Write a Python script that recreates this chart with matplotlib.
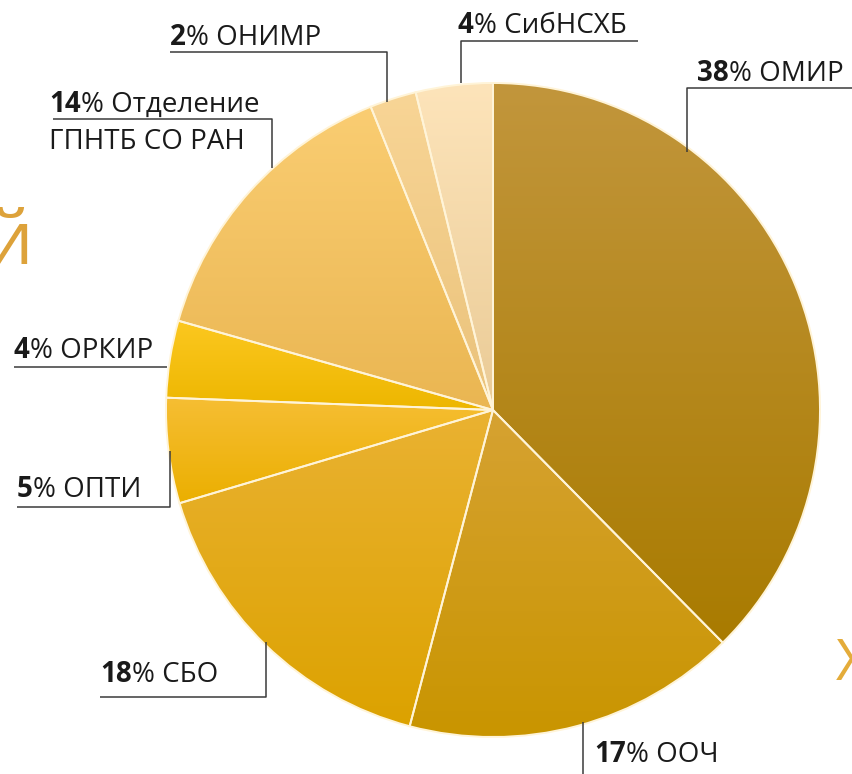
import numpy as np
import matplotlib.pyplot as plt
from matplotlib.colors import to_rgb

W, H = 852, 774

# slices, clockwise from 12 o'clock
names = ["ОМИР", "ООЧ", "СБО", "ОПТИ", "ОРКИР", "Отделение\nГПНТБ СО РАН", "ОНИМР", "СибНСХБ"]
percents = [38, 17, 18, 5, 4, 14, 2, 4]
shares = [37.6, 16.5, 16.3, 5.2, 3.8, 14.5, 2.3, 3.8]   # wedge sizes as measured in the picture

top_colors = ["#C2963C", "#D6A232", "#EAB232", "#F6BE34", "#FCC820", "#FACD72", "#F8D596", "#FDE4BA"]
bottom_colors = ["#A97B00", "#C99500", "#DCA200", "#EBAF00", "#EDB600", "#EAB652", "#EAC27A", "#EACB96"]

# label layout in pixels (x from left, y from top): text left/baseline and leader line
label_xy = [(697, 81), (594, 762), (100, 682), (17, 497), (14, 358), (49, 112), (170, 45), (458, 33)]
leaders = [
    [(852, 88), (687, 88), (687, 152)],
    [(583, 722), (583, 774)],
    [(100, 697), (266, 697), (266, 642)],
    [(17, 507), (170, 507), (170, 451)],
    [(14, 367), (167, 367)],
    [(53, 119), (272, 119), (272, 168)],
    [(170, 52), (387, 52), (387, 102)],
    [(638, 41), (461, 41), (461, 83)],
]

plt.rcParams['font.family'] = ['Open Sans', 'DejaVu Sans']
FS = 20

fig = plt.figure(figsize=(W / 100, H / 100), dpi=100)
ax = fig.add_axes([0, 0, 1, 1])

# y axis runs downward, so counterclock in data = clockwise on screen
wedges, _ = ax.pie(shares, startangle=-90, counterclock=True,
                   center=(493, 410), radius=327, colors=top_colors)

for w, c1, c2 in zip(wedges, top_colors, bottom_colors):
    bb = w.get_path().get_extents()
    grad = np.linspace(to_rgb(c1), to_rgb(c2), 256).reshape(256, 1, 3)
    im = ax.imshow(grad, extent=[bb.x0, bb.x1, bb.y1, bb.y0], origin='upper',
                   aspect='auto', interpolation='bicubic', zorder=1)
    im.set_clip_path(w)
    w.set_facecolor('none')
    w.set_edgecolor('#FFF4D8')
    w.set_linewidth(1.4)
    w.set_zorder(3)

# labels: bold number, regular rest
for name, p, (x, y), pts in zip(names, percents, label_xy, leaders):
    lines = name.split("\n")
    t = ax.text(x, y, str(p), fontsize=FS, fontweight='bold', color='#1a1a1a',
                ha='left', va='baseline', zorder=5)
    ax.annotate("% " + lines[0], xy=(1, 0), xycoords=t, va='bottom', ha='left',
                fontsize=FS, color='#1a1a1a', zorder=5)
    if len(lines) > 1:
        ax.text(x, y + 37, lines[1], fontsize=FS, color='#1a1a1a',
                ha='left', va='baseline', zorder=5)
    xs, ys = zip(*pts)
    ax.plot(xs, ys, color='#3a3a3a', lw=1.1, solid_capstyle='butt', zorder=4)

# pieces of background heading cut by the frame
ax.text(33, 264, "й", fontsize=54, color='#DDA23A', ha='right', va='baseline', zorder=0)
ax.text(836, 680, "Х", fontsize=41, color='#E4AC3A', ha='left', va='baseline', zorder=0)

ax.set_xlim(0, W)
ax.set_ylim(H, 0)
ax.set_aspect('auto')
ax.axis('off')

fig.savefig("out.png", dpi=100)
